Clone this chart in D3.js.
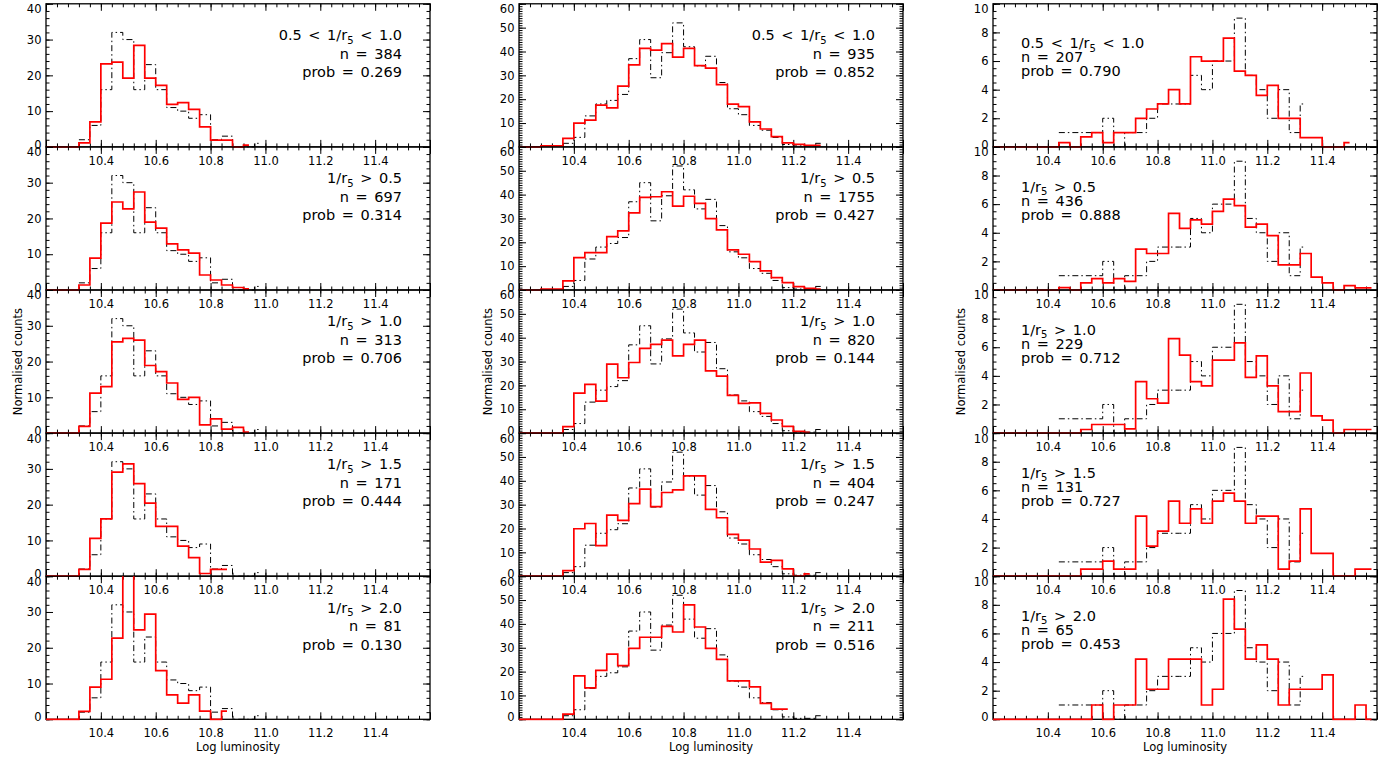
<!DOCTYPE html>
<html><head><meta charset="utf-8">
<script src="https://cdn.jsdelivr.net/npm/d3@7"></script>
<style>
body{margin:0;background:#fff}
svg{display:block}
text{font-family:"DejaVu Sans",sans-serif;fill:#000}
</style>
</head><body>
<svg id="chart" width="1397" height="759"></svg>
<script>
// ---------------- data ----------------
const binWidth = 0.04;
const xDomain = [10.2, 11.6];
const xMajorTicks = [10.2, 10.4, 10.6, 10.8, 11.0, 11.2, 11.4, 11.6];
const xTickLabels = {"10.4":"10.4","10.6":"10.6","10.8":"10.8","11":"11.0","11.2":"11.2","11.4":"11.4"};
const yMaxByColumn = [40, 60, 10];
const yMajorStep = [10, 10, 2];
const yMinorStep = [2, 1, 0.5];
const xAxisTitle = "Log luminosity";
const yAxisTitle = "Normalised counts";

const cutPrefix = ["0.5 < 1/r", "1/r", "1/r", "1/r", "1/r"];
const cutSub = "5";
const cutSuffix = [" < 1.0", " > 0.5", " > 1.0", " > 1.5", " > 2.0"];

const nCol1 = [384, 697, 313, 171, 81];
const nCol2 = [935, 1755, 820, 404, 211];
const nCol3 = [207, 436, 229, 131, 65];
const probCol1 = ["0.269", "0.314", "0.706", "0.444", "0.130"];
const probCol2 = ["0.852", "0.427", "0.144", "0.247", "0.516"];
const probCol3 = ["0.790", "0.888", "0.712", "0.727", "0.453"];

// reference (black dash-dot) histograms, first bin edge + values per 0.04 bin
const refStart = [10.32, 10.36, 10.44];
const refCol1 = [2, 6, 16, 32, 30, 16, 23, 16, 11, 10, 8, 9, 2, 3, 0, 0, 1];
const refCol2 = [1.5, 4, 13, 18, 19.5, 22, 37, 45, 29, 39.5, 52, 42, 34, 38, 27, 16, 13.5, 9, 7, 4, 1, 0.4, 0.4, 1.5];
const refCol3 = [1, 1, 1, 1, 2, 0, 1, 1, 2, 3, 3, 3, 5, 4, 6, 6, 9, 5, 4, 2, 4, 1, 3];

// red histograms, all starting at bin edge 10.20
const redStart = 10.20;
const redCol1 = [
  [0, 0, 0, 1.1, 7, 23.2, 23.7, 19.2, 28.4, 19.2, 17.2, 11.9, 12.4, 10.5, 5.6, 1.9, 1.9, 0, 0.5],
  [0, 0, 0, 1.4, 8.9, 18.7, 24.6, 22.7, 27.4, 19, 17.3, 12.9, 11.2, 10.3, 4.2, 2.8, 1.4, 0.7, 0.3],
  [0, 0, 0, 1.9, 11.2, 13, 25.5, 26.5, 26, 18.9, 17.2, 14, 9.4, 10, 2.3, 4, 1.1, 1.6, 0.3],
  [0, 0, 0, 1.9, 10.6, 16, 29.1, 31.4, 25.9, 20.4, 13.9, 13.9, 8.4, 5.2, 0.75, 1.9, 1.9],
  [0, 0, 0, 2.2, 9, 11.2, 22.7, 45, 25, 29.4, 13.6, 6.8, 4.5, 6.8, 2.3, 0, 2.3]
];
const redCol2 = [
  [0, 0, 0.4, 0.4, 3.6, 10, 11.2, 17.5, 16.4, 25.5, 34.4, 41.3, 40.6, 43.3, 37.6, 41.3, 34.1, 33, 26.1, 17.9, 16.9, 10.5, 7.5, 4.3, 1.7, 1.1, 0.7, 0.7],
  [0, 0, 0.4, 0.4, 3.8, 13.6, 15.7, 15.7, 22.4, 24.8, 32.3, 38.8, 39.1, 41.2, 35.2, 39.3, 36.3, 29.9, 25.2, 16.8, 15, 11.9, 8, 5.2, 3.1, 1.4, 0.7, 0.4],
  [0, 0, 0, 0, 2.7, 16.8, 20.4, 13.4, 28.9, 23.2, 29.6, 35.5, 37.2, 39, 32.4, 37.2, 39, 26.1, 23.9, 15.8, 12.5, 12.7, 8.3, 5.5, 2.8, 0.7, 0.3],
  [0, 0, 0, 0, 2.3, 19.9, 22.1, 12.8, 25.6, 23.4, 30.4, 36.5, 29.2, 35.1, 36.2, 42.1, 42.1, 28, 24.5, 17.5, 15.1, 11.4, 5.9, 6.6, 3.1, 0, 1],
  [0, 0, 0, 0, 2.2, 18.2, 13.2, 20.5, 27.3, 22.5, 29.7, 34.4, 34.4, 39, 36.6, 48, 38.7, 29.7, 25.1, 16.1, 16.1, 13.6, 6.7, 4.3, 4.3]
];
const redCol3 = [
  [0, 0, 0, 0, 0, 0, 0.3, 0, 0.7, 1, 0.3, 1, 1, 2, 2.65, 3, 4, 3, 6.3, 6, 6, 7.6, 5.3, 5, 3.6, 4.3, 2, 2, 0.65, 0.65, 0, 0, 0.3],
  [0, 0, 0, 0, 0, 0, 0.16, 0, 0.5, 0.8, 0.5, 0.8, 0.6, 2.85, 2.55, 2.55, 5.35, 4.3, 4.9, 4.6, 5.5, 6.35, 5.9, 4.4, 4.6, 3.8, 1.75, 1.75, 2.55, 0.9, 0.5, 0, 0.3, 0.15, 0.15],
  [0, 0, 0, 0, 0, 0, 0, 0, 0.25, 0.6, 0.6, 0.6, 0.3, 3.6, 2.4, 2.1, 6.6, 5.45, 3.6, 3.3, 5.1, 5.1, 6.3, 3.9, 5.4, 3.3, 1.5, 1.5, 4.2, 1.2, 0.9, 0, 0.25, 0.25, 0.25],
  [0, 0, 0, 0, 0, 0, 0, 0, 0.5, 0.5, 1.05, 0.5, 0.5, 4.2, 2.1, 3.15, 5.25, 3.7, 4.7, 3.7, 5.25, 5.8, 5.25, 3.7, 4.2, 4.2, 0.5, 1.05, 4.7, 1.6, 1.6, 0, 0, 0.5, 0.5],
  [0, 0, 0, 0, 0, 0, 0, 0, 0, 1, 0, 1, 1, 4.2, 2.1, 2.1, 4.2, 4.2, 4.2, 1, 2.1, 8.4, 6.3, 4.2, 5.2, 4.2, 1, 2.1, 2.1, 2.1, 3.1, 0, 0, 1, 0]
];

// ---------------- layout ----------------
const columns = [
  {x0: 46,  refVals: refCol1, ref0: refStart[0], red: redCol1, n: nCol1, prob: probCol1, align: "right", ytitleOff: 24},
  {x0: 519, refVals: refCol2, ref0: refStart[1], red: redCol2, n: nCol2, prob: probCol2, align: "right", ytitleOff: 27.5},
  {x0: 993, refVals: refCol3, ref0: refStart[2], red: redCol3, n: nCol3, prob: probCol3, align: "left",  ytitleOff: 28}
];
const panelW = 384, rowTop0 = 3.8, rowH = 143.1, nRows = 5;
const majorLen = 7, minorLen = 3.5;

const svg = d3.select("#chart");
const round = v => Math.round(v * 1000) / 1000;

function histPoints(start, vals) {
  const pts = vals.map((v, i) => [round(start + i * binWidth), v]);
  const last = vals.length - 1;
  pts.push([round(start + last * binWidth + binWidth / 2), vals[last]]);
  return pts;
}

columns.forEach((col, ci) => {
  const yMax = yMaxByColumn[ci];
  const x = d3.scaleLinear().domain(xDomain).range([col.x0, col.x0 + panelW]);
  const xMinor = d3.range(0, 36).map(i => round(xDomain[0] + i * binWidth)).filter(v => v <= xDomain[1] + 1e-9);
  const yMajor = d3.range(0, yMax + 1e-9, yMajorStep[ci]).map(round);
  const yMinor = d3.range(0, yMax + 1e-9, yMinorStep[ci]).map(round);

  for (let r = 0; r < nRows; r++) {
    const top = rowTop0 + r * rowH, bottom = top + rowH;
    const y = d3.scaleLinear().domain([0, yMax]).range([bottom, top]);
    const g = svg.append("g");

    // axes (ticks inward on all four sides)
    const mkAxis = (gen, scale, vals, len, tx, ty) => {
      const a = g.append("g").attr("transform", `translate(${tx},${ty})`)
        .call(gen(scale).tickValues(vals).tickSizeInner(-len).tickSizeOuter(0).tickFormat(""));
      a.select(".domain").remove();
      a.selectAll("line").attr("stroke", "#000").attr("stroke-width", 1);
      return a;
    };
    mkAxis(d3.axisBottom, x, xMinor, minorLen, 0, bottom);
    mkAxis(d3.axisTop, x, xMinor, minorLen, 0, top);
    mkAxis(d3.axisLeft, y, yMinor, minorLen, col.x0, 0);
    mkAxis(d3.axisRight, y, yMinor, minorLen, col.x0 + panelW, 0);
    mkAxis(d3.axisTop, x, xMajorTicks, majorLen, 0, top);
    mkAxis(d3.axisRight, y, yMajor, majorLen, col.x0 + panelW, 0);

    // bottom axis with labels
    const xb = g.append("g").attr("transform", `translate(0,${bottom})`)
      .call(d3.axisBottom(x).tickValues(xMajorTicks).tickSizeInner(-majorLen).tickSizeOuter(0)
        .tickPadding(9.5).tickFormat(d => xTickLabels[String(round(d))] || ""));
    xb.select(".domain").remove();
    xb.selectAll("line").attr("stroke", "#000");
    xb.selectAll("text").attr("font-size", 11.5).attr("font-family", "DejaVu Sans").attr("fill", "#000");

    // left axis with labels
    const yl = g.append("g").attr("transform", `translate(${col.x0},0)`)
      .call(d3.axisLeft(y).tickValues(yMajor).tickSizeInner(-majorLen).tickSizeOuter(0)
        .tickPadding(4.5).tickFormat(d3.format("d")));
    yl.select(".domain").remove();
    yl.selectAll("line").attr("stroke", "#000");
    yl.selectAll("text").attr("font-size", 11.5).attr("font-family", "DejaVu Sans").attr("fill", "#000")
      .attr("dy", d => d === yMax ? "0.78em" : (d === 0 ? "0.1em" : "0.32em"));

    // frame
    g.append("rect").attr("x", col.x0).attr("y", top).attr("width", panelW).attr("height", rowH)
      .attr("fill", "none").attr("stroke", "#000").attr("stroke-width", 1.3);

    // clip
    const cid = `clip-${ci}-${r}`;
    svg.append("clipPath").attr("id", cid).append("rect")
      .attr("x", col.x0 - 1).attr("y", top).attr("width", panelW + 2).attr("height", rowH + 1.5);

    const line = d3.line().x(d => x(d[0])).y(d => y(d[1])).curve(d3.curveStepAfter);
    const hg = g.append("g").attr("clip-path", `url(#${cid})`);
    hg.append("path").attr("d", line(histPoints(col.ref0, col.refVals)))
      .attr("fill", "none").attr("stroke", "#000").attr("stroke-width", 1)
      .attr("stroke-dasharray", "6,3,1.5,3");
    hg.append("path").attr("d", line(histPoints(redStart, col.red[r])))
      .attr("fill", "none").attr("stroke", "#ff0000").attr("stroke-width", 1.7);

    // annotation
    const fs = 14.5;
    let tx, anchor, offs;
    if (col.align === "right") { tx = col.x0 + 356; anchor = "end"; offs = [31, 49.5, 68]; }
    else { tx = col.x0 + 28; anchor = "start"; offs = [39.3, 53.3, 67.3]; }
    const ann = g.append("g").attr("font-size", fs).attr("text-anchor", anchor)
      .style("word-spacing", "2px");
    const t1 = ann.append("text").attr("x", tx).attr("y", top + offs[0] + 5.3).attr("xml:space", "preserve");
    t1.append("tspan").text(cutPrefix[r]);
    t1.append("tspan").attr("font-size", 10).attr("dy", 3.5).text(cutSub);
    t1.append("tspan").attr("dy", -3.5).text(cutSuffix[r]);
    ann.append("text").attr("x", tx).attr("y", top + offs[1] + 5.3).text(`n = ${col.n[r]}`);
    ann.append("text").attr("x", tx).attr("y", top + offs[2] + 5.3).text(`prob = ${col.prob[r]}`);
  }

  // axis titles
  svg.append("text").attr("x", col.x0 + panelW / 2).attr("y", 751)
    .attr("text-anchor", "middle").attr("font-size", 11.5).text(xAxisTitle);
  const ymid = rowTop0 + rowH * 2.5;
  svg.append("text").attr("transform", `translate(${col.x0 - col.ytitleOff},${ymid}) rotate(-90)`)
    .attr("text-anchor", "middle").attr("font-size", 11.5).text(yAxisTitle);
});
</script>
</body></html>
